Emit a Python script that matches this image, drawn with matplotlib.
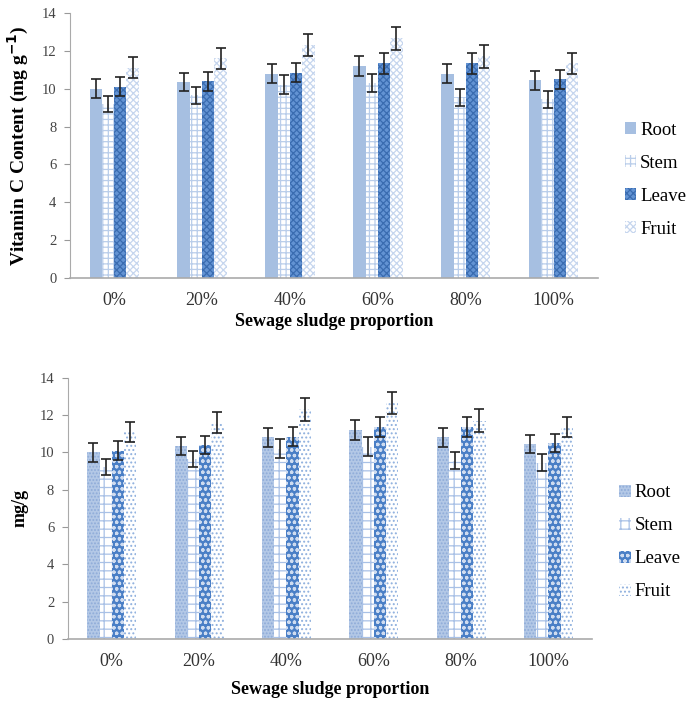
import numpy as np
import matplotlib.pyplot as plt

plt.rcParams['font.family'] = ['Liberation Serif', 'DejaVu Serif']
plt.rcParams['hatch.linewidth'] = 0.9

categories = ['0%', '20%', '40%', '60%', '80%', '100%']
parts = ['Root', 'Stem', 'Leave', 'Fruit']

root = [10.0, 10.35, 10.8, 11.2, 10.8, 10.45]
stem = [9.2, 9.65, 10.2, 10.3, 9.55, 9.45]
leave = [10.1, 10.4, 10.85, 11.35, 11.35, 10.5]
fruit = [11.1, 11.6, 12.3, 12.65, 11.7, 11.35]

root_err = [0.5, 0.5, 0.5, 0.55, 0.5, 0.5]
stem_err = [0.42, 0.45, 0.5, 0.5, 0.45, 0.45]
leave_err = [0.5, 0.5, 0.5, 0.55, 0.55, 0.5]
fruit_err = [0.55, 0.55, 0.6, 0.6, 0.6, 0.55]

values = [root, stem, leave, fruit]
errors = [root_err, stem_err, leave_err, fruit_err]

# fill styles for the two versions of the chart
styles_top = [
    dict(facecolor='#a6bfe1', edgecolor='#a6bfe1', hatch=None),
    dict(facecolor='white', edgecolor='#b9cdea', hatch='+++'),
    dict(facecolor='#6393d3', edgecolor='#3a6cb0', hatch='xxxxx'),
    dict(facecolor='white', edgecolor='#c6d6ee', hatch='xxxxx'),
]
styles_bottom = [
    dict(facecolor='#b3c8e6', edgecolor='#8eabd8', hatch='.....'),
    dict(facecolor='white', edgecolor='#a9c1e6', hatch='++'),
    dict(facecolor='#4a7fc6', edgecolor='#cfdcf0', hatch='ooo'),
    dict(facecolor='white', edgecolor='#8fb0de', hatch='....'),
]

fig = plt.figure(figsize=(6.95, 7.03), dpi=100)
ax1 = fig.add_axes([0.101, 0.6046, 0.759, 0.377])
ax2 = fig.add_axes([0.098, 0.091, 0.754, 0.3717])

x = np.arange(len(categories))
w = 0.14


def draw(ax, styles, ylabel, ysize, legend_y, xpad):
    for i, (vals, errs, st) in enumerate(zip(values, errors, styles)):
        pos = x + (i - 1.5) * w
        ax.bar(pos, vals, w, linewidth=0, label=parts[i], **st)
        ax.errorbar(pos, vals, yerr=errs, fmt='none', ecolor='#222222',
                    elinewidth=1.2, capsize=3.5, capthick=1.2)
    ax.set_xlim(-0.5, len(categories) - 0.5)
    ax.set_ylim(0, 14)
    ax.set_yticks(range(0, 15, 2))
    ax.set_xticks(x)
    ax.set_xticklabels(categories, fontsize=13, color='#333333')
    ax.tick_params(axis='x', length=0, pad=10)
    ax.tick_params(axis='y', length=4, width=0.8, color='#999999',
                   labelsize=10.5, labelcolor='#444444', pad=6)
    for s in ['top', 'right']:
        ax.spines[s].set_visible(False)
    ax.spines['left'].set_color('#aaaaaa')
    ax.spines['bottom'].set_color('#aaaaaa')
    ax.spines['bottom'].set_linewidth(1.2)
    ax.set_xlabel('Sewage sludge proportion', fontsize=13, fontweight='bold', labelpad=xpad)
    ax.set_ylabel(ylabel, fontsize=ysize, fontweight='bold', labelpad=8)
    ax.legend(loc='center left', bbox_to_anchor=(1.02, legend_y), frameon=False,
              fontsize=13.5, handlelength=0.6, handleheight=0.6,
              handletextpad=0.2, labelspacing=0.85)


draw(ax1, styles_top, 'Vitamin C Content (mg g$^{\\mathbf{-1}}$)', 14, 0.37, 3)
draw(ax2, styles_bottom, 'mg/g', 13, 0.37, 8)

fig.savefig('out.png', dpi=100)
